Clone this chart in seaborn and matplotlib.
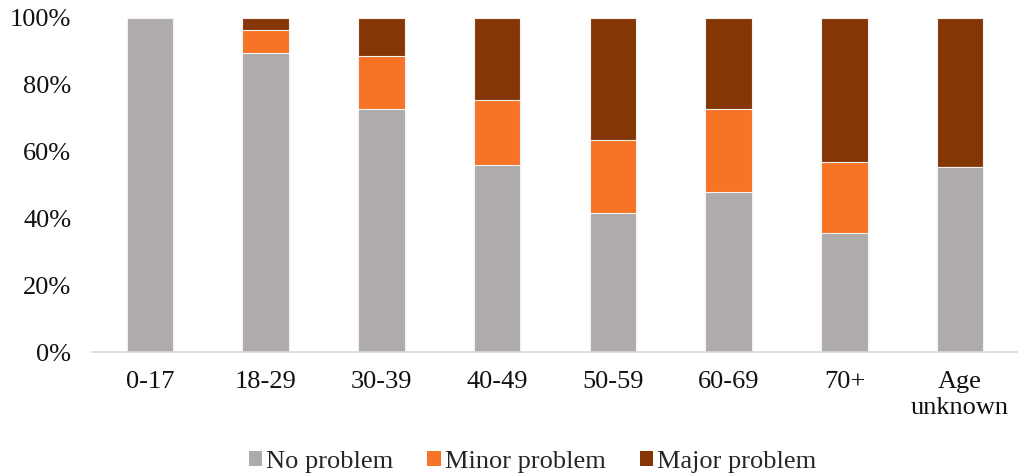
import matplotlib
matplotlib.use("Agg")
import matplotlib.pyplot as plt
import seaborn as sns
import pandas as pd
import numpy as np
from matplotlib.patches import Patch

categories = ["0-17", "18-29", "30-39", "40-49", "50-59", "60-69", "70+", "Age\nunknown"]
no_problem = [100.0, 89.5, 72.8, 56.0, 41.5, 47.8, 35.5, 55.4]
minor_problem = [0.0, 6.9, 15.7, 19.4, 22.0, 25.0, 21.5, 0.0]
major_problem = [0.0, 3.6, 11.5, 24.6, 36.5, 27.2, 43.0, 44.6]
series_names = ["No problem", "Minor problem", "Major problem"]
colors = ["#AFABAB", "#F77325", "#843605"]

sns.set_theme(style="white")
plt.rcParams["font.family"] = ["Liberation Serif", "DejaVu Serif"]

df = pd.DataFrame({
    "cat": categories,
    "no": no_problem,
    "minor": minor_problem,
    "major": major_problem,
})
df["cum_minor"] = df["no"] + df["minor"]
df["cum_major"] = df["cum_minor"] + df["major"]

fig = plt.figure(figsize=(10.18, 4.76), dpi=100)
ax = fig.add_axes([0.0904, 0.2605, 0.9096, 0.7017])

bw = 0.4
edge = dict(edgecolor="#f2f2f2", linewidth=0.8)
sns.barplot(data=df, x="cat", y="cum_major", color=colors[2], width=bw, ax=ax, saturation=1, **edge)
sns.barplot(data=df, x="cat", y="cum_minor", color=colors[1], width=bw, ax=ax, saturation=1, **edge)
sns.barplot(data=df, x="cat", y="no", color=colors[0], width=bw, ax=ax, saturation=1, **edge)

ax.set_xlim(-0.5, len(categories) - 0.5)
ax.set_ylim(0, 100)
ax.set_yticks([0, 20, 40, 60, 80, 100])
ax.set_yticklabels([f"{v}%" for v in [0, 20, 40, 60, 80, 100]])
ax.set_xlabel("")
ax.set_ylabel("")
ax.tick_params(axis="both", length=0, labelsize=19, colors="#111111")
ax.tick_params(axis="x", pad=14)
ax.tick_params(axis="y", pad=15)
for s in ["top", "right", "left"]:
    ax.spines[s].set_visible(False)
ax.spines["bottom"].set_color("#D9D9D9")
ax.spines["bottom"].set_linewidth(1.2)
ax.grid(False)

handles = [Patch(facecolor=c, edgecolor="none") for c in colors]
fig.legend(handles, series_names, loc="center", bbox_to_anchor=(0.523, 0.030), ncol=3,
           frameon=False, fontsize=19, handlelength=0.5, handleheight=0.5,
           handletextpad=0.15, columnspacing=1.3)

fig.savefig("out.png", dpi=100)
